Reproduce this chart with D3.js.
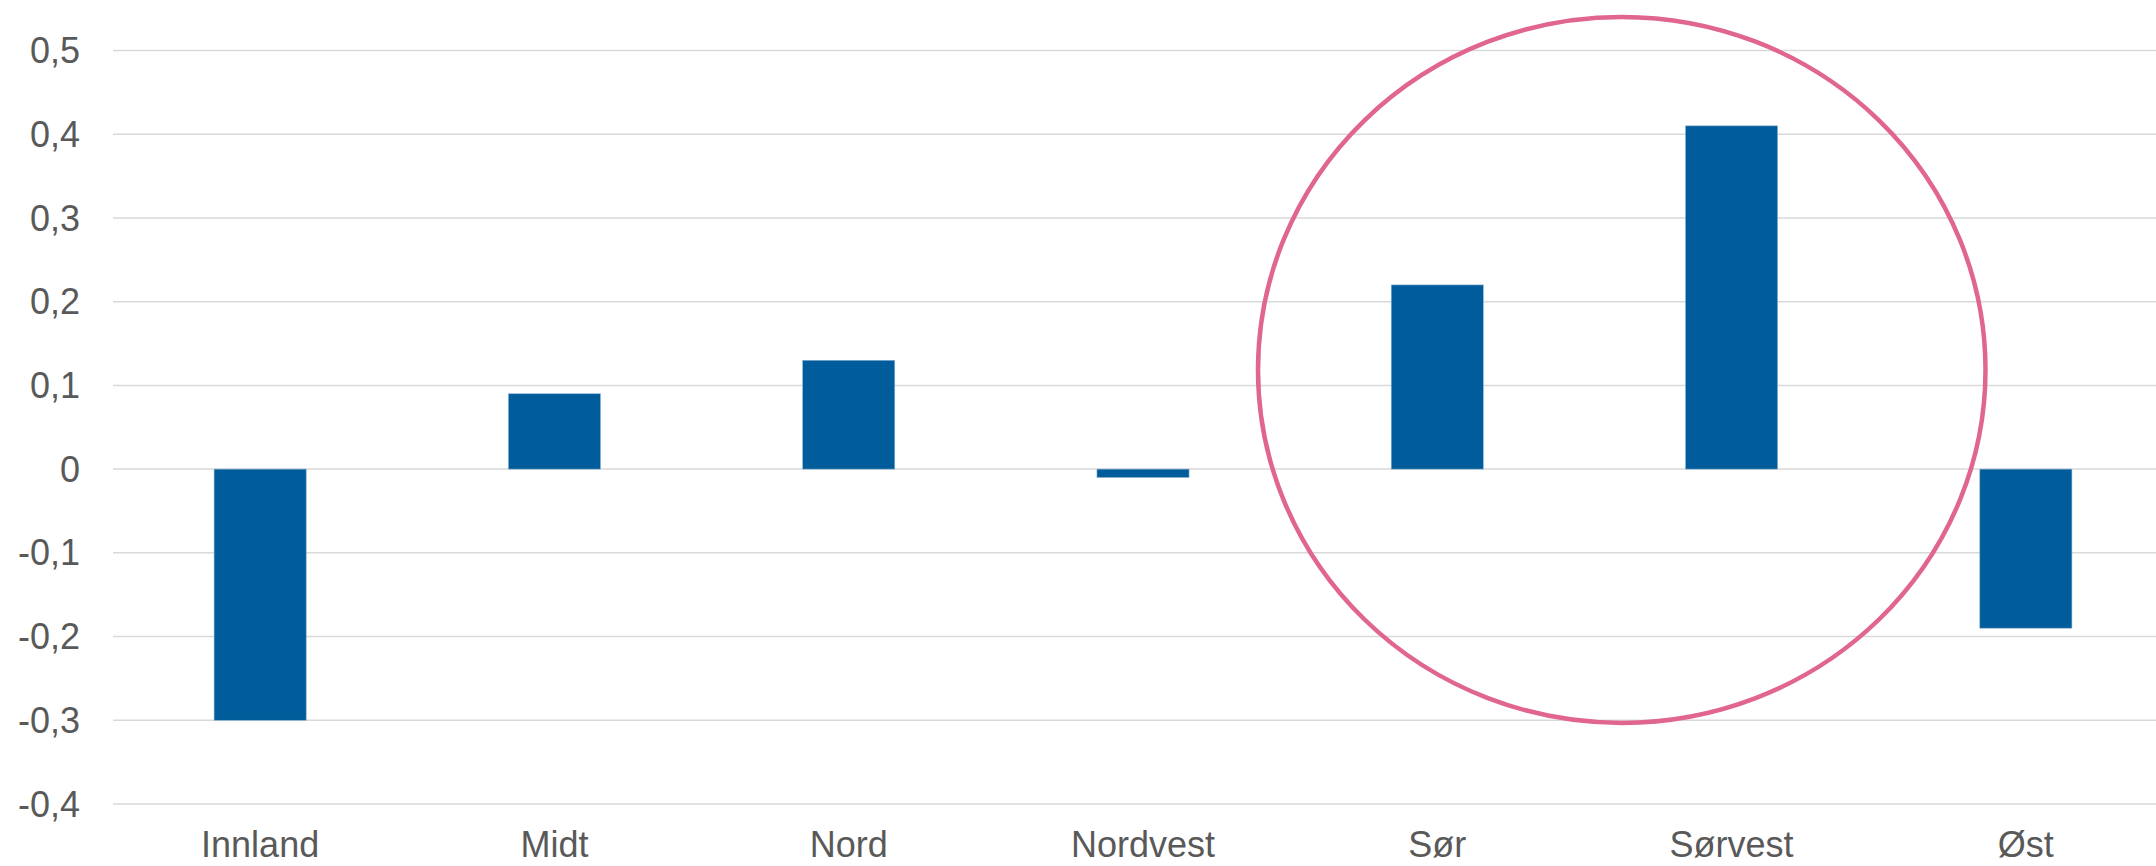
<!DOCTYPE html>
<html>
<head>
<meta charset="utf-8">
<script src="https://cdn.jsdelivr.net/npm/d3@7"></script>
<style>
  html, body { margin: 0; padding: 0; background: #ffffff; }
  svg { display: block; }
</style>
</head>
<body>
<svg id="chart" width="2156" height="866"></svg>
<script>
const categories = ["Innland", "Midt", "Nord", "Nordvest", "Sør", "Sørvest", "Øst"];
const values = [-0.30, 0.09, 0.13, -0.01, 0.22, 0.41, -0.19];
const yTicks = [-0.4, -0.3, -0.2, -0.1, 0, 0.1, 0.2, 0.3, 0.4, 0.5];
const yTickLabels = ["-0,4", "-0,3", "-0,2", "-0,1", "0", "0,1", "0,2", "0,3", "0,4", "0,5"];

const W = 2156, H = 866;
const svg = d3.select("#chart");

const x = d3.scaleBand()
  .domain(categories)
  .range([113, 2173])
  .paddingInner(0.687)
  .paddingOuter(0.3435);

const y = d3.scaleLinear()
  .domain([-0.4, 0.5])
  .range([804, 50.5]);

const font = "'Liberation Sans', Arial, sans-serif";
const textColor = "#595959";

// gridlines
svg.append("g")
  .selectAll("line")
  .data(yTicks)
  .join("line")
  .attr("x1", 113)
  .attr("x2", W)
  .attr("y1", d => y(d))
  .attr("y2", d => y(d))
  .attr("stroke", "#d9d9d9")
  .attr("stroke-width", 1.5);

// y labels
svg.append("g")
  .selectAll("text")
  .data(yTicks)
  .join("text")
  .attr("x", 80)
  .attr("y", d => y(d))
  .attr("dy", "0.35em")
  .attr("text-anchor", "end")
  .attr("font-family", font)
  .attr("font-size", 36)
  .attr("fill", textColor)
  .text((d, i) => yTickLabels[i]);

// bars
svg.append("g")
  .selectAll("rect")
  .data(values)
  .join("rect")
  .attr("x", (d, i) => x(categories[i]))
  .attr("width", x.bandwidth())
  .attr("y", d => y(Math.max(0, d)))
  .attr("height", d => Math.abs(y(d) - y(0)))
  .attr("fill", "#005c9a")
  .attr("stroke", "#8fb3d3")
  .attr("stroke-width", 0.6);

// x labels
svg.append("g")
  .selectAll("text")
  .data(categories)
  .join("text")
  .attr("x", d => x(d) + x.bandwidth() / 2)
  .attr("y", 857)
  .attr("text-anchor", "middle")
  .attr("font-family", font)
  .attr("font-size", 36)
  .attr("fill", textColor)
  .text(d => d);

// annotation ellipse around Sør and Sørvest
const annCx = 1621.75, annCy = y(0.1185), annRx = 363.75, annRy = 353;
svg.append("ellipse")
  .attr("cx", annCx)
  .attr("cy", annCy)
  .attr("rx", annRx)
  .attr("ry", annRy)
  .attr("fill", "none")
  .attr("stroke", "#e0668f")
  .attr("stroke-width", 4.5);
</script>
</body>
</html>
